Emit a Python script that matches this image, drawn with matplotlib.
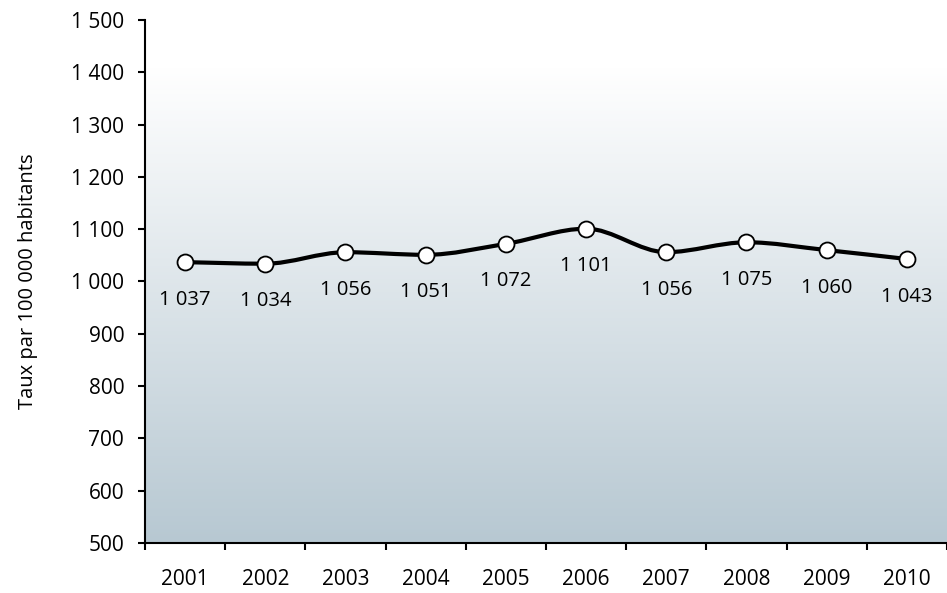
import numpy as np
import matplotlib.pyplot as plt
from matplotlib.path import Path
from matplotlib.patches import PathPatch
from matplotlib.colors import LinearSegmentedColormap

plt.rcParams["font.family"] = ["Open Sans", "DejaVu Sans"]

years = ["2001", "2002", "2003", "2004", "2005", "2006", "2007", "2008", "2009", "2010"]
rates = [1037, 1034, 1056, 1051, 1072, 1101, 1056, 1075, 1060, 1043]
rate_labels = ["1 037", "1 034", "1 056", "1 051", "1 072", "1 101", "1 056", "1 075", "1 060", "1 043"]
y_ticks = [500, 600, 700, 800, 900, 1000, 1100, 1200, 1300, 1400, 1500]
y_tick_labels = ["500", "600", "700", "800", "900", "1 000", "1 100", "1 200", "1 300", "1 400", "1 500"]


def smooth_path(x, y):
    # monotone cubic tangents, drawn as bezier segments
    x = np.asarray(x, float)
    y = np.asarray(y, float)
    d = np.diff(y) / np.diff(x)
    m = np.zeros_like(y)
    m[0], m[-1] = d[0], d[-1]
    for i in range(1, len(y) - 1):
        if d[i - 1] * d[i] <= 0:
            m[i] = 0
        else:
            m[i] = 2 / (1 / d[i - 1] + 1 / d[i])
    verts = [(x[0], y[0])]
    codes = [Path.MOVETO]
    for i in range(len(x) - 1):
        h = (x[i + 1] - x[i]) / 3
        verts += [(x[i] + h, y[i] + m[i] * h), (x[i + 1] - h, y[i + 1] - m[i + 1] * h), (x[i + 1], y[i + 1])]
        codes += [Path.CURVE4] * 3
    return Path(verts, codes)


fig = plt.figure(figsize=(9.47, 5.93), dpi=100)
ax = fig.add_axes([0.1531, 0.0843, 0.8469, 0.882])

xpos = np.arange(len(years))
ax.set_xlim(-0.5, len(years) - 0.5)
ax.set_ylim(500, 1500)

# background gradient
cmap = LinearSegmentedColormap.from_list("bg", ["#b7c8d2", "#ffffff"])
grad = np.linspace(0, 1, 256).reshape(-1, 1)
ax.imshow(grad, cmap=cmap, aspect="auto", origin="lower",
          extent=(-0.5, len(years) - 0.5, 500, 1410), zorder=0)

ax.add_patch(PathPatch(smooth_path(xpos, rates), facecolor="none",
                       edgecolor="black", linewidth=3, zorder=3, capstyle="round"))
ax.plot(xpos, rates, linestyle="none", marker="o", markersize=11.5,
        markerfacecolor="white", markeredgecolor="black", markeredgewidth=1.3, zorder=4)

for xi, v, lab in zip(xpos, rates, rate_labels):
    ax.annotate(lab, xy=(xi, v), xytext=(0, -27), textcoords="offset points",
                ha="center", va="center", fontsize=14.5)

ax.set_xticks(np.arange(-0.5, len(years), 1.0))
ax.set_xticklabels([])
ax.set_xticks(xpos, minor=True)
ax.set_xticklabels(years, minor=True, fontsize=15)
ax.tick_params(axis="x", which="major", length=5, width=1.5, direction="out")
ax.tick_params(axis="x", which="minor", length=0, pad=19)

ax.set_yticks(y_ticks)
ax.set_yticklabels(y_tick_labels, fontsize=15)
ax.tick_params(axis="y", length=5, width=1.5, direction="out", pad=10)

ax.set_ylabel("Taux par 100 000 habitants", fontsize=14.5, labelpad=24)

for s in ["top", "right"]:
    ax.spines[s].set_visible(False)
for s in ["left", "bottom"]:
    ax.spines[s].set_linewidth(1.5)
    ax.spines[s].set_zorder(5)

fig.savefig("out.png", dpi=100)
